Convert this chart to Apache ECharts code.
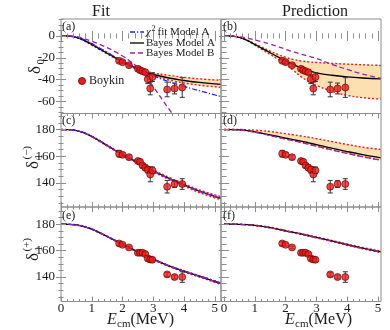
<!DOCTYPE html>
<html><head><meta charset="utf-8">
<script src="https://cdn.jsdelivr.net/npm/echarts@6/dist/echarts.min.js"></script>
<style>html,body{margin:0;padding:0;background:#fff;}#c{width:390px;height:330px;}</style>
</head><body><div id="c"></div>
<script>
// ---------- data ----------
const energy   = [1.89, 2.00, 2.21, 2.50, 2.57, 2.65, 2.74, 2.82, 2.90, 2.97, 3.45, 3.69, 3.94];
const delta0   = [-22.8, -24.0, -26.8, -30.1, -31.4, -32.3, -33.2, -39.6, -48.1, -37.7, -49.0, -48.1, -47.2];
const delta0Err= [1.5, 1.5, 1.5, 1.5, 1.5, 1.5, 2.0, 4.0, 5.8, 4.0, 6.7, 5.0, 9.0];
const delta1m  = [161.9, 161.1, 159.3, 156.4, 155.9, 153.1, 151.4, 149.9, 146.4, 149.4, 137.2, 139.2, 139.2];
const delta1mErr=[2.5, 1.5, 1.5, 1.5, 1.5, 1.5, 2.0, 2.5, 5.5, 2.5, 4.7, 2.5, 4.0];
const delta1p  = [165.4, 164.4, 162.4, 158.4, 158.4, 158.4, 157.4, 154.1, 153.3, 153.1, 142.0, 140.0, 140.0];
const delta1pErr=[1.5, 1.0, 1.0, 1.0, 1.0, 1.0, 1.0, 1.5, 2.0, 1.5, 1.5, 1.5, 4.0];

const E_L = [0,0.25,0.5,0.75,1.0,1.25,1.5,1.75,2.0,2.25,2.5,2.75,3.0,3.5,4.0,4.5,5.2];
const E_R = [0,0.25,0.5,0.75,1.0,1.25,1.5,1.75,2.0,2.25,2.5,2.75,3.0,3.5,4.0,4.5,5.1];

// (a) fit, delta0
const aBlack = [0,-0.1,-1.3,-4.0,-7.8,-11.8,-15.8,-19.8,-23.6,-27.0,-30.2,-33.0,-35.3,-38.5,-40.8,-42.6,-44.3];
const aUpper = [0,-0.1,-1.1,-3.6,-7.2,-11.1,-15.1,-19.1,-22.9,-26.3,-29.4,-32.0,-33.9,-36.1,-37.9,-39.3,-40.5];
const aLower = [0,-0.1,-1.5,-4.4,-8.4,-12.5,-16.5,-20.5,-24.3,-27.7,-31.0,-34.0,-36.6,-40.3,-43.1,-45.1,-47.0];
const aBlue  = [0,-0.1,-1.0,-3.4,-7.0,-11.0,-15.0,-19.2,-23.2,-26.9,-30.4,-33.6,-36.6,-41.8,-46.2,-50.2,-55.5];
const aPurple= [0,-0.05,-0.6,-2.4,-4.8,-7.6,-10.8,-14.3,-18.3,-23.2,-29.2,-37.0,-46.5,-66.5,-85.0,-100.0,-115.0];
// (b) prediction, delta0
const bBlack = [0,-0.1,-1.3,-4.0,-7.8,-11.6,-15.4,-19.2,-22.8,-26.0,-29.3,-31.8,-33.8,-36.0,-37.5,-38.5,-39.3];
const bUpper = [0,-0.1,-1.2,-3.8,-7.2,-10.6,-13.9,-16.9,-19.6,-21.5,-22.9,-23.7,-24.3,-25.1,-25.8,-26.4,-27.0];
const bLower = [0,-0.1,-1.4,-4.3,-8.5,-12.8,-17.0,-21.3,-26.0,-31.5,-37.2,-41.8,-45.3,-50.6,-54.4,-56.5,-57.8];
const bPurple= [0,-0.1,-0.8,-2.0,-3.6,-5.4,-7.5,-9.8,-12.2,-14.5,-16.6,-18.6,-20.6,-26.0,-30.7,-34.9,-38.8];
// (c) fit, delta1(-)
const cBlack = [180,179.9,179.2,177.5,174.8,171.5,168.0,164.5,161.2,158.2,155.2,152.0,149.0,143.5,138.5,133.8,128.5];
const cUpper = [180,179.9,179.3,177.7,175.1,171.9,168.5,165.0,161.7,158.7,155.8,152.6,149.7,144.3,139.4,134.8,129.7];
const cLower = [180,179.9,179.1,177.3,174.5,171.1,167.5,164.0,160.7,157.7,154.6,151.4,148.3,142.7,137.6,132.8,127.3];
const cBlue  = [180,179.9,179.3,177.7,175.0,171.7,168.2,164.7,161.4,158.3,155.3,152.1,149.1,143.6,138.7,134.0,128.8];
const cPurple= [180,179.9,179.2,177.4,174.7,171.4,167.9,164.4,161.1,158.1,155.0,151.8,148.8,143.3,138.3,133.6,128.3];
// (d) prediction, delta1(-)
const dBlack = [180,180,179.8,179.2,178.3,177.2,176.0,174.8,173.6,172.5,171.3,170.0,168.7,166.0,163.5,161.2,158.8];
const dUpper = [180,180,180,179.8,179.5,179.1,178.5,177.7,176.9,176.1,175.2,174.2,173.2,171.0,168.8,166.8,165.0];
const dLower = [180,180,179.7,179.0,178.0,176.8,175.5,174.2,172.9,171.7,170.4,169.0,167.6,164.8,162.2,159.7,157.1];
const dPurple= [180,180,179.7,179.0,178.0,176.8,175.5,174.2,172.9,171.6,170.3,168.9,167.5,164.7,162.1,159.6,157.0];
// (e) fit, delta1(+)
const eBlack = [180,179.9,179.4,178.2,176.3,173.6,170.7,167.7,164.7,161.8,159.0,156.2,153.4,148.5,144.3,140.5,135.0];
const eUpper = [180,179.9,179.5,178.4,176.6,173.9,171.0,168.0,165.0,162.1,159.3,156.5,153.8,148.9,144.8,141.0,135.6];
const eLower = [180,179.9,179.3,178.0,176.0,173.3,170.4,167.4,164.4,161.5,158.7,155.9,153.0,148.1,143.8,140.0,134.4];
const eBlue  = [180,179.9,179.4,178.2,176.3,173.6,170.7,167.7,164.8,161.9,159.1,156.3,153.6,148.7,144.6,140.9,135.5];
const ePurple= [180,179.9,179.4,178.2,176.3,173.6,170.7,167.7,164.7,161.8,159.0,156.2,153.4,148.5,144.3,140.5,135.0];
// (f) prediction, delta1(+)
const fBlack = [180,180,179.9,179.6,179.1,178.4,177.4,176.3,175.0,173.8,172.6,171.3,170.0,167.3,164.5,161.9,159.0];
const fUpper = [180,180,180,179.7,179.3,178.6,177.7,176.6,175.3,174.1,172.9,171.7,170.4,167.7,165.0,162.4,159.6];
const fLower = [180,180,179.8,179.5,178.9,178.2,177.1,176.0,174.7,173.5,172.3,170.9,169.6,166.9,164.0,161.4,158.4];
const fPurple= [180,180,179.9,179.6,179.0,178.3,177.3,176.2,174.9,173.7,172.5,171.2,169.8,167.1,164.3,161.7,158.8];

// tick labels
const xMajor = [0,1,2,3,4,5];
const yMajor0 = [-60,-40,-20,0];
const yMajor1 = [140,160,180];

// ---------- style ----------
const FRAME = '#8c8c8c';
const SERIF = 'Liberation Serif';
const TXT = '#1a1a1a';
const RED = '#f01a1a';
const BAND = '#fde0b2';
const BLUE = '#2020f0';
const PURPLE = '#96239f';

function steps(a, b, s, skip) {
  const out = [];
  for (let v = a; v <= b + 1e-9; v += s) {
    const r = Math.round(v * 100) / 100;
    if (!skip.some(m => Math.abs(m - r) < 1e-6)) out.push(r);
  }
  return out;
}
const xMinorL = steps(0, 5.2, 0.2, xMajor);
const xMinorR = steps(0, 5.1, 0.2, xMajor);
const yMinor0 = steps(-70, 15, 5, yMajor0);
const yMinor1 = steps(125, 190, 5, yMajor1);

const grids = [], xAxes = [], yAxes = [], series = [];

function tickAxis(base, pos, vals, len, label) {
  return Object.assign({}, base, {
    position: pos, z: 20,
    axisLine: {show: false},
    splitLine: {show: false},
    axisTick: {show: true, inside: true, length: len, customValues: vals, lineStyle: {color: FRAME, width: 1}},
    axisLabel: label ? Object.assign({customValues: vals, fontFamily: SERIF, fontSize: 13, color: TXT}, label) : {show: false}
  });
}

function addPanel(p) {
  const gi = grids.length;
  grids.push({left: p.left, top: p.top, width: 160, height: p.h, show: true, z: 20,
    borderColor: FRAME, borderWidth: 1, backgroundColor: 'transparent', outerBoundsMode: 'none'});
  const xi = xAxes.length, yi = yAxes.length;
  const xb = {gridIndex: gi, type: 'value', min: p.xmin, max: p.xmax};
  const yb = {gridIndex: gi, type: 'value', min: p.ymin, max: p.ymax};
  xAxes.push(tickAxis(xb, 'bottom', xMajor, 5, p.xLabel ? {margin: 1} : null));
  xAxes.push(tickAxis(xb, 'bottom', p.xMinor, 2.5));
  xAxes.push(tickAxis(xb, 'top', xMajor, 5));
  xAxes.push(tickAxis(xb, 'top', p.xMinor, 2.5));
  yAxes.push(tickAxis(yb, 'left', p.yMajor, 5, p.yLabel ? {margin: 6} : null));
  yAxes.push(tickAxis(yb, 'left', p.yMinor, 2.5));
  yAxes.push(tickAxis(yb, 'right', p.yMajor, 5));
  yAxes.push(tickAxis(yb, 'right', p.yMinor, 2.5));
  const ax = {xAxisIndex: xi, yAxisIndex: yi};
  const line = (xs, ys, style, z, area) => Object.assign({type: 'line', data: xs.map((e, i) => [e, ys[i]]),
    smooth: 0.4, symbol: 'none', silent: true, lineStyle: style, z: z, clip: true},
    area ? {areaStyle: {color: area, opacity: 1, origin: 'start'}} : {}, ax);
  const E = p.E;
  // band: fill under upper curve, then blank out under lower curve
  series.push(line(E, p.upper, {opacity: 0}, 1, BAND));
  series.push(line(E, p.lower, {opacity: 0}, 1.5, '#ffffff'));
  series.push(line(E, p.upper, {color: RED, width: 1.4, type: [2, 2]}, 2));
  series.push(line(E, p.lower, {color: RED, width: 1.4, type: [2, 2]}, 2));
  series.push(line(E, p.black, {color: '#000', width: 1.3}, 3));
  if (p.blue) series.push(line(E, p.blue, {color: BLUE, width: 1.2, type: [5, 2, 1.2, 2]}, 3));
  series.push(line(E, p.purple, {color: PURPLE, width: 1.3, type: [5, 3]}, 3));
  // error bars
  series.push(Object.assign({type: 'custom', silent: true, z: 4, clip: true,
    data: energy.map((e, i) => [e, p.pts[i] - p.err[i], p.pts[i] + p.err[i]]),
    encode: {x: 0, y: [1, 2]},
    renderItem: function (params, api) {
      const x = api.value(0);
      const a = api.coord([x, api.value(1)]), b = api.coord([x, api.value(2)]);
      const w = 2.5, st = {stroke: '#333', lineWidth: 1};
      return {type: 'group', children: [
        {type: 'line', shape: {x1: a[0], y1: a[1], x2: b[0], y2: b[1]}, style: st},
        {type: 'line', shape: {x1: a[0] - w, y1: a[1], x2: a[0] + w, y2: a[1]}, style: st},
        {type: 'line', shape: {x1: b[0] - w, y1: b[1], x2: b[0] + w, y2: b[1]}, style: st}
      ]};
    }}, ax));
  series.push(Object.assign({type: 'scatter', silent: true, z: 5, symbolSize: 7,
    data: energy.map((e, i) => [e, p.pts[i]]),
    itemStyle: {color: RED, borderColor: '#500', borderWidth: 0.8}}, ax));
}

const rows = [
  {top: 19, h: 94.5, ymin: -71, ymax: 15.5, yMajor: yMajor0, yMinor: yMinor0},
  {top: 113.5, h: 93.5, ymin: 122, ymax: 192, yMajor: yMajor1, yMinor: yMinor1},
  {top: 207, h: 94.5, ymin: 121.5, ymax: 193, yMajor: yMajor1, yMinor: yMinor1}
];
const L = {left: 61, xmin: 0, xmax: 5.2, xMinor: xMinorL, E: E_L, yLabel: true};
const R = {left: 221, xmin: -0.1, xmax: 5.1, xMinor: xMinorR, E: E_R, yLabel: false};

addPanel(Object.assign({}, rows[0], L, {upper: aUpper, lower: aLower, black: aBlack, blue: aBlue, purple: aPurple, pts: delta0, err: delta0Err}));
addPanel(Object.assign({}, rows[0], R, {upper: bUpper, lower: bLower, black: bBlack, purple: bPurple, pts: delta0, err: delta0Err}));
addPanel(Object.assign({}, rows[1], L, {upper: cUpper, lower: cLower, black: cBlack, blue: cBlue, purple: cPurple, pts: delta1m, err: delta1mErr}));
addPanel(Object.assign({}, rows[1], R, {upper: dUpper, lower: dLower, black: dBlack, purple: dPurple, pts: delta1m, err: delta1mErr}));
addPanel(Object.assign({}, rows[2], L, {upper: eUpper, lower: eLower, black: eBlack, blue: eBlue, purple: ePurple, pts: delta1p, err: delta1pErr, xLabel: true}));
addPanel(Object.assign({}, rows[2], R, {upper: fUpper, lower: fLower, black: fBlack, purple: fPurple, pts: delta1p, err: delta1pErr, xLabel: true}));

// ---------- text / legend graphics ----------
function T(x, y, text, font, align, extra) {
  return Object.assign({type: 'text', x: x, y: y, silent: true, z: 100,
    style: {text: text, font: font, fill: TXT, align: align || 'left', verticalAlign: 'middle'}}, extra || {});
}
const g = [];
g.push(T(101, 12, 'Fit', '16px ' + SERIF, 'center'));
g.push(T(315, 12, 'Prediction', '16px ' + SERIF, 'center'));
// panel tags
[['(a)', 62, 27], ['(b)', 223, 27], ['(c)', 62, 121], ['(d)', 223, 121], ['(e)', 62, 216], ['(f)', 223, 216]]
  .forEach(t => g.push(T(t[1], t[2], t[0], '12px ' + SERIF, 'left')));
// x titles
function xTitle(x0) {
  g.push(T(x0, 320, 'E', 'italic 16px ' + SERIF, 'left'));
  g.push(T(x0 + 10, 324, 'cm', '11px ' + SERIF, 'left'));
  g.push(T(x0 + 23.5, 320, '(MeV)', '16px ' + SERIF, 'left'));
}
xTitle(107); xTitle(285);
// y titles (rotated)
function yTitle(cx, cy, sub, sup) {
  const ch = [
    {type: 'text', x: -7, y: 0, style: {text: 'δ', font: '17px ' + SERIF, fill: TXT, align: 'left', verticalAlign: 'middle'}},
    {type: 'text', x: 2.5, y: 5, style: {text: sub, font: '11px ' + SERIF, fill: TXT, align: 'left', verticalAlign: 'middle'}}
  ];
  if (sup) ch.push({type: 'text', x: 2.5, y: -7, style: {text: sup, font: '11px ' + SERIF, fill: TXT, align: 'left', verticalAlign: 'middle'}});
  g.push({type: 'group', x: cx, y: cy, rotation: Math.PI / 2, silent: true, z: 100, children: ch});
}
yTitle(36, 67, '0');
yTitle(34, 162, '1', '(−)');
yTitle(34, 254, '1', '(+)');
// legend
function legLine(y, color, dash) {
  g.push({type: 'line', silent: true, z: 100, shape: {x1: 130, y1: y, x2: 144, y2: y},
    style: {stroke: color, lineWidth: 1.3, lineDash: dash}});
}
legLine(32, BLUE, [5, 2, 1.2, 2]);
g.push(T(146, 32, 'χ', 'italic 11px ' + SERIF));
g.push(T(151.5, 28.5, '2', '8px ' + SERIF));
g.push(T(157.5, 32, 'fit Model A', '11px ' + SERIF));
legLine(43, '#000', null);
g.push(T(146, 43, 'Bayes Model A', '11px ' + SERIF));
legLine(53, PURPLE, [5, 3]);
g.push(T(146, 53, 'Bayes Model B', '11px ' + SERIF));
g.push({type: 'circle', silent: true, z: 100, shape: {cx: 82, cy: 81, r: 3.5}, style: {fill: RED, stroke: '#500', lineWidth: 0.8}});
g.push(T(89, 81, 'Boykin', '12px ' + SERIF));

const chart = echarts.init(document.getElementById('c'), null, {renderer: 'canvas'});
chart.setOption({
  animation: false,
  backgroundColor: '#fff',
  grid: grids, xAxis: xAxes, yAxis: yAxes, series: series, graphic: {elements: g}
});
</script></body></html>
